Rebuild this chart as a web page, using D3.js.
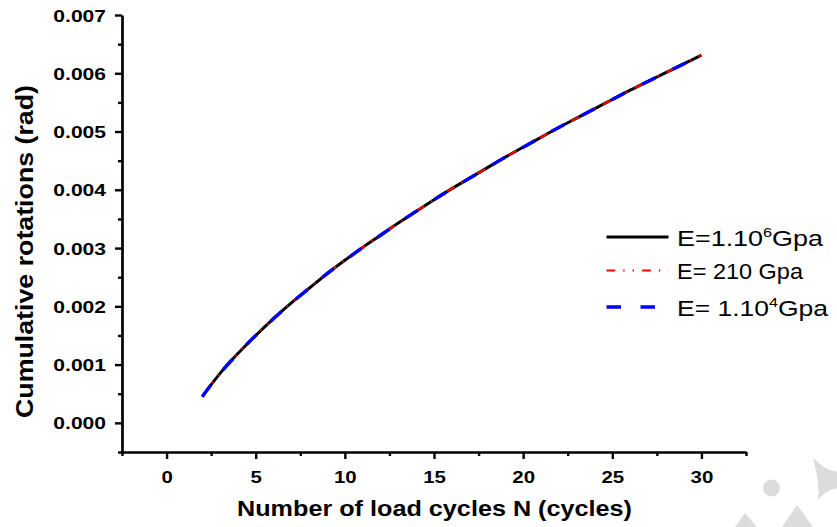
<!DOCTYPE html>
<html>
<head>
<meta charset="utf-8">
<script src="https://cdn.jsdelivr.net/npm/d3@7"></script>
<style>
  html, body { margin: 0; padding: 0; background: #fff; }
  svg { display: block; }
  text { font-family: "Liberation Sans", Arial, sans-serif; fill: #000; }
</style>
</head>
<body>
<svg id="chart" width="837" height="527"></svg>
<script>
// ---- data ----
const cycles = [2,3,4,5,6,7,8,9,10,11,12,13,14,15,16,17,18,19,20,21,22,23,24,25,26,27,28,29,30];
const rotE1e6 = [0.00045,0.00085,0.00119,0.00150,0.00179,0.00206,0.00231,0.00256,0.00279,0.00301,0.00322,0.00343,0.00363,0.00383,0.00402,0.00420,0.00438,0.00456,0.00473,0.00490,0.00507,0.00523,0.00539,0.00555,0.00571,0.00586,0.00601,0.00616,0.00631];
const rotE210 = [0.00045,0.00085,0.00119,0.00150,0.00179,0.00206,0.00231,0.00256,0.00279,0.00301,0.00322,0.00343,0.00363,0.00383,0.00402,0.00420,0.00438,0.00456,0.00473,0.00490,0.00507,0.00523,0.00539,0.00555,0.00571,0.00586,0.00601,0.00616,0.00631];
const rotE1e4 = [0.00045,0.00085,0.00119,0.00150,0.00179,0.00206,0.00231,0.00256,0.00279,0.00301,0.00322,0.00343,0.00363,0.00383,0.00402,0.00420,0.00438,0.00456,0.00473,0.00490,0.00507,0.00523,0.00539,0.00555,0.00571,0.00586,0.00601,0.00616,0.00631];
const xTicks = [0,5,10,15,20,25,30];
const xMinorTicks = [-2.5,2.5,7.5,12.5,17.5,22.5,27.5,32.5];
const yTicks = [0.000,0.001,0.002,0.003,0.004,0.005,0.006,0.007];
const yMinorTicks = [-0.0005,0.0005,0.0015,0.0025,0.0035,0.0045,0.0055,0.0065];
const xDomain = [-2.5, 32.5];
const yDomain = [-0.0005, 0.007];
const xTitle = "Number of load cycles N (cycles)";
const yTitle = "Cumulative rotations (rad)";

// ---- layout ----
const svg = d3.select("#chart");
const mLeft = 122, mRight = 746, mTop = 15, mBottom = 452;
const SX = 1.24; // horizontal stretch of the reference's text

const x = d3.scaleLinear().domain(xDomain).range([mLeft, mRight]);
const y = d3.scaleLinear().domain(yDomain).range([mBottom, mTop]);

// watermark (light grey decoration, bottom right)
const wm = svg.append("g").attr("fill", "#dcdcdc");
wm.append("circle").attr("cx", 771.5).attr("cy", 488).attr("r", 8.5);
wm.append("path").attr("d", "M735,527 L745,513 L757,527 Z");
wm.append("path").attr("d", "M782,527 L797,505 L813,527 Z");
wm.append("path").attr("d", "M813,458 Q825,470 837,472 L837,488 Q826,490 818,500 Q820,485 813,458 Z");

// axes
const yAxis = d3.axisLeft(y).tickValues(yTicks).tickSize(7).tickSizeOuter(0).tickFormat(d3.format(".3f"));
const yMinor = d3.axisLeft(y).tickValues(yMinorTicks).tickSize(4).tickFormat("");
const xAxis = d3.axisBottom(x).tickValues(xTicks).tickSize(7).tickSizeOuter(0).tickFormat(d3.format("d"));
const xMinor = d3.axisBottom(x).tickValues(xMinorTicks).tickSize(4).tickFormat("");

const gy = svg.append("g").attr("transform", `translate(${mLeft},0)`).call(yAxis);
const gym = svg.append("g").attr("transform", `translate(${mLeft},0)`).call(yMinor);
const gx = svg.append("g").attr("transform", `translate(0,${mBottom})`).call(xAxis);
const gxm = svg.append("g").attr("transform", `translate(0,${mBottom})`).call(xMinor);

[gy, gym, gx, gxm].forEach(g => {
  g.selectAll("path.domain").attr("stroke", "#000").attr("stroke-width", 2.7);
  g.selectAll(".tick line").attr("stroke", "#000").attr("stroke-width", 2.4);
});
gym.select("path.domain").remove();
gxm.select("path.domain").remove();

gy.selectAll(".tick text")
  .attr("font-size", 17).attr("font-weight", "bold")
  .attr("font-family", "Liberation Sans, Arial, sans-serif")
  .attr("text-anchor", "end")
  .attr("x", -16 / SX).attr("dy", "0.36em")
  .attr("transform", `scale(${SX},1)`);

gx.selectAll(".tick text")
  .attr("font-size", 16.5).attr("font-weight", "bold")
  .attr("font-family", "Liberation Sans, Arial, sans-serif")
  .attr("text-anchor", "middle")
  .attr("x", 0).attr("y", 31).attr("dy", 0)
  .attr("transform", `scale(${SX},1)`);

// titles
svg.append("text")
  .attr("x", 434.5).attr("y", 516)
  .attr("text-anchor", "middle")
  .attr("font-size", 21.5).attr("font-weight", "bold")
  .attr("textLength", 395).attr("lengthAdjust", "spacingAndGlyphs")
  .text(xTitle);

svg.append("text")
  .attr("transform", `translate(33,251.5) rotate(-90)`)
  .attr("text-anchor", "middle")
  .attr("font-size", 24).attr("font-weight", "bold")
  .attr("textLength", 333).attr("lengthAdjust", "spacingAndGlyphs")
  .text(yTitle);

// curves
const line = d3.line().x(d => x(d[0])).y(d => y(d[1])).curve(d3.curveMonotoneX);
const series = [
  { name: "E=1.10", sup: "6", tail: "Gpa", vals: rotE1e6, color: "#000", width: 3, dash: null },
  { name: "E= 210 Gpa", sup: null, tail: "", vals: rotE210, color: "#ff0000", width: 2.2, dash: "8.7,8,1.4,8,1.4,8.2" },
  { name: "E= 1.10", sup: "4", tail: "Gpa", vals: rotE1e4, color: "#0000ff", width: 3.4, dash: "14.5,19.5" }
];

series.forEach(s => {
  const pts = cycles.map((c, i) => [c, s.vals[i]]);
  const p = svg.append("path").datum(pts)
    .attr("d", line).attr("fill", "none")
    .attr("stroke", s.color).attr("stroke-width", s.width);
  if (s.dash) p.attr("stroke-dasharray", s.dash);
});

// legend
const legY = [237, 270.5, 307];
const legBase = [246, 279, 316];
const legLen = [146, 126, 151];
series.forEach((s, i) => {
  const l = svg.append("line")
    .attr("x1", 606.5).attr("x2", 668.5)
    .attr("y1", legY[i]).attr("y2", legY[i])
    .attr("stroke", s.color).attr("stroke-width", s.width);
  if (s.dash) l.attr("stroke-dasharray", s.dash);
  const t = svg.append("text")
    .attr("x", 677).attr("y", legBase[i])
    .attr("font-size", 21.5)
    .attr("textLength", legLen[i]).attr("lengthAdjust", "spacingAndGlyphs");
  t.append("tspan").text(s.name);
  if (s.sup) {
    t.append("tspan").attr("font-size", 13).attr("dy", -9).text(s.sup);
    t.append("tspan").attr("dy", 9).text(s.tail);
  }
});
</script>
</body>
</html>
